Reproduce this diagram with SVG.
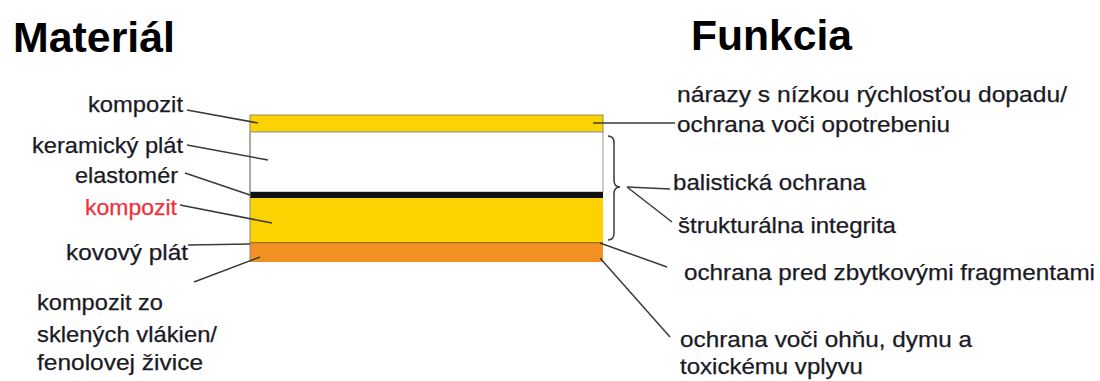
<svg xmlns="http://www.w3.org/2000/svg" width="1100" height="381" viewBox="0 0 1100 381">
<style>
.t{font-family:"Liberation Sans",Arial,sans-serif;font-size:22px;fill:#1a1a24;stroke:#1a1a24;stroke-width:0.25}
.h{font-family:"Liberation Sans",Arial,sans-serif;font-size:43px;font-weight:bold;fill:#000}
.red{fill:#f0303a;stroke:#f0303a}
.c{stroke:#3a3a3a;stroke-width:1.5;fill:none}
.y{fill:#fcd200}
.o{fill:#f39024}
</style>
<rect width="1100" height="381" fill="#fff"/>
<g id="titles">
<text class="h" x="13" y="52" textLength="162" lengthAdjust="spacingAndGlyphs">Materiál</text>
<text class="h" x="691" y="50" textLength="161" lengthAdjust="spacingAndGlyphs">Funkcia</text>
</g>
<g id="stack">
<rect id="layer-composite-top" class="y" x="250" y="115" width="353" height="17" stroke="#a08a50" stroke-width="1"/>
<rect id="layer-ceramic" x="250" y="132" width="353" height="60" fill="#fff" stroke="#999" stroke-width="1"/>
<rect id="layer-elastomer" x="250" y="192" width="353" height="6" fill="#111"/>
<rect id="layer-composite" class="y" x="250" y="198" width="353" height="45"/>
<line x1="250" y1="243" x2="603" y2="243" stroke="#8a5010" stroke-width="1.5"/>
<rect id="layer-metal" class="o" x="250" y="243.5" width="353" height="18.5"/>
<line x1="250" y1="132" x2="250" y2="262" stroke="#888" stroke-width="1"/>
</g>
<g id="brace">
<path class="c" d="M608,136 Q614,136 614,143 L614,180 Q614,187 620,187 Q614,187 614,194 L614,233 Q614,240 608,240" stroke-width="1.3"/>
</g>
<g id="connectors">
<line class="c" x1="187" y1="110" x2="258" y2="123"/>
<line class="c" x1="187" y1="145" x2="268" y2="160"/>
<line class="c" x1="185" y1="173" x2="250" y2="195"/>
<line class="c" x1="180" y1="205" x2="272" y2="223"/>
<line class="c" x1="188" y1="245" x2="250" y2="244"/>
<line class="c" x1="194" y1="282" x2="260" y2="257"/>
<line class="c" x1="593" y1="123" x2="675" y2="123"/>
<line class="c" x1="627" y1="187" x2="670" y2="189"/>
<line class="c" x1="627" y1="187" x2="672" y2="222"/>
<line class="c" x1="600" y1="243" x2="667" y2="267"/>
<line class="c" x1="600" y1="258" x2="670" y2="337"/>
</g>
<g id="material-labels">
<text class="t" x="88" y="112" textLength="95" lengthAdjust="spacingAndGlyphs">kompozit</text>
<text class="t" x="32" y="153" textLength="151" lengthAdjust="spacingAndGlyphs">keramický plát</text>
<text class="t" x="75" y="183" textLength="103" lengthAdjust="spacingAndGlyphs">elastomér</text>
<text class="t red" x="85" y="215" textLength="92" lengthAdjust="spacingAndGlyphs">kompozit</text>
<text class="t" x="66" y="260" textLength="122" lengthAdjust="spacingAndGlyphs">kovový plát</text>
<text class="t" x="37" y="310" textLength="126" lengthAdjust="spacingAndGlyphs">kompozit zo</text>
<text class="t" x="37" y="342" textLength="180" lengthAdjust="spacingAndGlyphs">sklených vlákien/</text>
<text class="t" x="37" y="370" textLength="166" lengthAdjust="spacingAndGlyphs">fenolovej živice</text>
</g>
<g id="function-labels">
<text class="t" x="677" y="102" textLength="390" lengthAdjust="spacingAndGlyphs">nárazy s nízkou rýchlosťou dopadu/</text>
<text class="t" x="677" y="132" textLength="273" lengthAdjust="spacingAndGlyphs">ochrana voči opotrebeniu</text>
<text class="t" x="673" y="190" textLength="193" lengthAdjust="spacingAndGlyphs">balistická ochrana</text>
<text class="t" x="678" y="233" textLength="218" lengthAdjust="spacingAndGlyphs">štrukturálna integrita</text>
<text class="t" x="684" y="280" textLength="411" lengthAdjust="spacingAndGlyphs">ochrana pred zbytkovými fragmentami</text>
<text class="t" x="680" y="347" textLength="292" lengthAdjust="spacingAndGlyphs">ochrana voči ohňu, dymu a</text>
<text class="t" x="680" y="374" textLength="183" lengthAdjust="spacingAndGlyphs">toxickému vplyvu</text>
</g>
</svg>
